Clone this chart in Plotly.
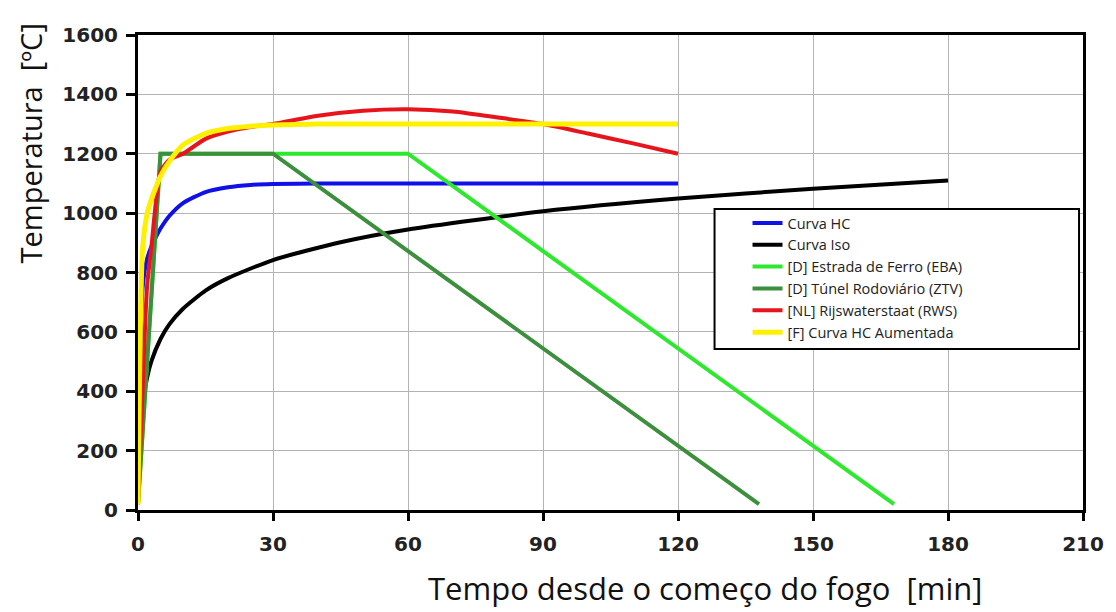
import plotly.graph_objects as go

# ---- data ----
hc_t = [0, 1, 2, 3, 4, 5, 7, 10, 15, 20, 25, 30, 40, 60, 90, 120]
hc_T = [20, 745, 845, 888, 920, 948, 991, 1034, 1071, 1087, 1095, 1098, 1100, 1100, 1100, 1100]

iso_t = [0, 0.5, 1, 2, 3, 5, 7, 10, 15, 20, 30, 45, 60, 90, 120, 150, 180]
iso_T = [20, 261, 349, 444, 502, 576, 626, 678, 739, 781, 842, 902, 945, 1006, 1049, 1082, 1110]

eba_t = [0, 5, 60, 168]
eba_T = [20, 1200, 1200, 20]

ztv_t = [0, 5, 30, 138]
ztv_T = [20, 1200, 1200, 20]

rws_t = [0, 1, 2, 3, 5, 7, 10, 15, 20, 25, 30, 40, 50, 60, 70, 80, 90, 100, 110, 120]
rws_T = [20, 400, 750, 890, 1140, 1180, 1200, 1250, 1275, 1290, 1300, 1328, 1345, 1350, 1342, 1322, 1300, 1268, 1235, 1200]

hcm_t = [0, 1, 2, 3, 4, 5, 7, 10, 15, 20, 25, 30, 40, 60, 90, 120]
hcm_T = [20, 877, 996, 1048, 1088, 1125, 1175, 1230, 1268, 1285, 1293, 1297, 1300, 1300, 1300, 1300]

names = ["Curva HC", "Curva Iso", "[D] Estrada de Ferro (EBA)",
         "[D] Túnel Rodoviário (ZTV)", "[NL] Rijswaterstaat (RWS)", "[F] Curva HC Aumentada"]
colors = ["#1010e8", "#000000", "#2ee82e", "#3c8f3c", "#e8141c", "#fff000"]
widths = [4, 4, 4, 4, 4, 5]
series = [(hc_t, hc_T, "spline"), (iso_t, iso_T, "spline"), (eba_t, eba_T, "linear"),
          (ztv_t, ztv_T, "linear"), (rws_t, rws_T, "spline"), (hcm_t, hcm_T, "spline")]

x_ticks = [0, 30, 60, 90, 120, 150, 180, 210]
y_ticks = [0, 200, 400, 600, 800, 1000, 1200, 1400, 1600]

fig = go.Figure()
for (t, T, shape), name, col, w in zip(series, names, colors, widths):
    fig.add_trace(go.Scatter(x=t, y=T, mode="lines", name=name,
                             line=dict(color=col, width=w, shape=shape, smoothing=0.6)))

tickfont = dict(family="DejaVu Sans", size=20, color="#222222", weight="bold")
fig.update_layout(
    width=1116, height=612,
    margin=dict(l=138, r=29, t=35, b=102),
    paper_bgcolor="white", plot_bgcolor="white",
    showlegend=True,
    legend=dict(x=0.645, y=0.638, xanchor="left", yanchor="top",
                bgcolor="rgba(0,0,0,0)", borderwidth=0,
                font=dict(family="Open Sans", size=14.5, color="#222222"),
                tracegroupgap=0),
    xaxis=dict(range=[0, 210], tickvals=x_ticks, showgrid=True, gridcolor="#b4b4b4", gridwidth=1,
               showline=True, linecolor="black", linewidth=3, mirror=True,
               ticks="outside", ticklen=8, tickwidth=3, tickcolor="black",
               tickfont=tickfont, ticklabelstandoff=6, zeroline=False),
    yaxis=dict(range=[0, 1600], tickvals=y_ticks, showgrid=True, gridcolor="#b4b4b4", gridwidth=1,
               showline=True, linecolor="black", linewidth=3, mirror=True,
               ticks="outside", ticklen=9, tickwidth=3, tickcolor="black",
               tickfont=tickfont, ticklabelstandoff=4, zeroline=False),
    shapes=[dict(type="rect", xref="paper", yref="paper", x0=0.6101, x1=0.9958, y0=0.339, y1=0.6337,
                 line=dict(color="black", width=2), fillcolor="white", layer="above")],
    annotations=[
        dict(text="Tempo desde o começo do fogo\u00a0\u00a0[min]", xref="paper", yref="paper",
             x=(707 - 138) / 949, y=-(588 - 510) / 475, xanchor="center", yanchor="middle",
             showarrow=False, font=dict(family="Open Sans", size=31, color="#111111")),
        dict(text="Temperatura\u00a0\u00a0[ºC]", xref="paper", yref="paper",
             x=-(138 - 30) / 949, y=(510 - 143) / 475, xanchor="center", yanchor="middle",
             textangle=-90, showarrow=False, font=dict(family="Open Sans", size=29, color="#111111")),
    ],
)

fig.write_html("out.html", config={"displayModeBar": False},
               post_script="document.body.style.margin='0';")
